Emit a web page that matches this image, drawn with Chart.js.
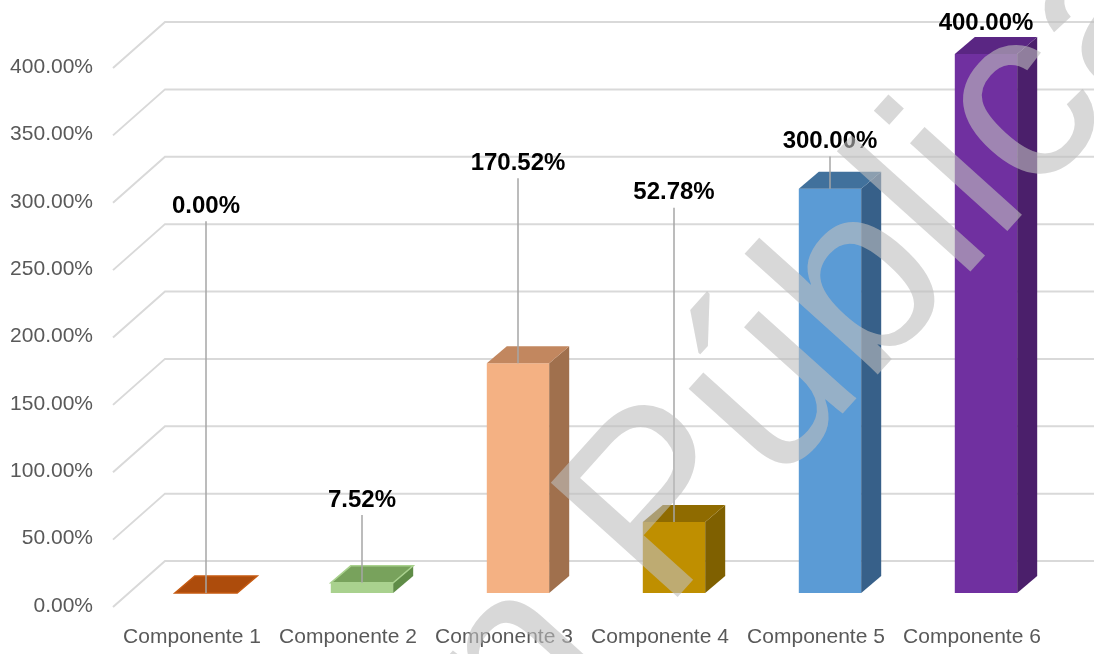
<!DOCTYPE html>
<html>
<head>
<meta charset="utf-8">
<script src="https://cdn.jsdelivr.net/npm/chart.js@4.4.0/dist/chart.umd.min.js"></script>
<style>
  html, body { margin: 0; padding: 0; background: #fff; }
  #chart { display: block; }
</style>
</head>
<body>
<canvas id="chart" width="1094" height="654"></canvas>
<script>
const categories = ['Componente 1', 'Componente 2', 'Componente 3', 'Componente 4', 'Componente 5', 'Componente 6'];
const values = [0, 7.52, 170.52, 52.78, 300, 400];
const valueLabels = ['0.00%', '7.52%', '170.52%', '52.78%', '300.00%', '400.00%'];
// where each (hand-moved) data label sits, in axis units
const labelAnchor = [287, 69, 319, 297, 335, 423];
const yMax = 400;
const yStep = 50;

const frontColors = ['#c55a11', '#a9d18e', '#f4b183', '#bf8f00', '#5b9bd5', '#7030a0'];
const topColors = ['#ad4c0c', '#78a25c', '#c2875f', '#8f6b00', '#41719c', '#5a2683'];
const sideColors = ['#8f3e08', '#5f8c47', '#a0704d', '#7f6000', '#376089', '#4b1f6b'];

const FONT = '"Liberation Sans", Arial, sans-serif';
const DEPTH = { dx: 20, dy: -17 };       // bar depth
const WALL_FRONT = { dx: -15, dy: 14 };  // side wall front edge, from bar plane
const WALL_BACK = { dx: 37, dy: -32 };   // back wall, from bar plane
const watermark = 'Versión Pública';

const grid3d = {
  id: 'grid3d',
  beforeDatasetsDraw(chart) {
    const { ctx, scales: { x, y } } = chart;
    const left = x.left;
    ctx.save();
    ctx.strokeStyle = '#d9d9d9';
    ctx.lineWidth = 2;
    for (let v = 0; v <= yMax; v += yStep) {
      const py = y.getPixelForValue(v);
      ctx.beginPath();
      ctx.moveTo(left + WALL_FRONT.dx, py + WALL_FRONT.dy);
      ctx.lineTo(left + WALL_BACK.dx, py + WALL_BACK.dy);
      ctx.lineTo(chart.width, py + WALL_BACK.dy);
      ctx.stroke();
    }
    ctx.restore();
  }
};

const bars3d = {
  id: 'bars3d',
  afterDatasetsDraw(chart) {
    const { ctx } = chart;
    const meta = chart.getDatasetMeta(0);
    const yScale = chart.scales.y;
    ctx.save();
    meta.data.forEach((bar, i) => {
      const { x, y, base, width } = bar.getProps(['x', 'y', 'base', 'width'], true);
      const l = x - width / 2, r = x + width / 2;
      // side
      if (base - y > 0.5) {
        ctx.fillStyle = sideColors[i];
        ctx.beginPath();
        ctx.moveTo(r, y);
        ctx.lineTo(r + DEPTH.dx, y + DEPTH.dy);
        ctx.lineTo(r + DEPTH.dx, base + DEPTH.dy);
        ctx.lineTo(r, base);
        ctx.closePath();
        ctx.fill();
      }
      // top
      ctx.fillStyle = topColors[i];
      ctx.beginPath();
      ctx.moveTo(l, y);
      ctx.lineTo(l + DEPTH.dx, y + DEPTH.dy);
      ctx.lineTo(r + DEPTH.dx, y + DEPTH.dy);
      ctx.lineTo(r, y);
      ctx.closePath();
      ctx.fill();
      if (base - y < 12) {
        ctx.strokeStyle = frontColors[i];
        ctx.lineWidth = 1.5;
        ctx.stroke();
      }
    });

    // leader lines and data labels
    ctx.font = 'bold 24px ' + FONT;
    ctx.textAlign = 'center';
    ctx.textBaseline = 'middle';
    meta.data.forEach((bar, i) => {
      const { x, y } = bar.getProps(['x', 'y'], true);
      const ly = yScale.getPixelForValue(labelAnchor[i]);
      if (y - (ly + 15) > 25) {
        ctx.strokeStyle = '#a6a6a6';
        ctx.lineWidth = 1.5;
        ctx.beginPath();
        ctx.moveTo(x, ly + 15);
        ctx.lineTo(x, y);
        ctx.stroke();
      }
      ctx.fillStyle = '#000';
      ctx.fillText(valueLabels[i], x, ly);
    });
    ctx.restore();
  },
  afterDraw(chart) {
    const { ctx } = chart;
    ctx.save();
    ctx.translate(664, 612);
    ctx.rotate(-48 * Math.PI / 180);
    ctx.font = '248px ' + FONT;
    ctx.fillStyle = 'rgba(190,190,190,0.6)';
    ctx.textBaseline = 'alphabetic';
    ctx.textAlign = 'left';
    ctx.fillText(watermark, -ctx.measureText('Versión ').width, 0);
    ctx.restore();
  }
};

new Chart(document.getElementById('chart'), {
  type: 'bar',
  data: {
    labels: categories,
    datasets: [{
      data: values,
      backgroundColor: frontColors,
      borderWidth: 0,
      categoryPercentage: 1,
      barPercentage: 0.4
    }]
  },
  options: {
    responsive: false,
    animation: false,
    devicePixelRatio: 1,
    layout: { padding: { left: 0, right: 30, top: 54, bottom: 0 } },
    plugins: { legend: { display: false }, tooltip: { enabled: false } },
    scales: {
      x: {
        grid: { display: false, drawTicks: false },
        border: { display: false },
        afterFit: s => { s.height = 61; },
        ticks: { color: '#595959', font: { family: FONT, size: 21 }, padding: 32, labelOffset: -14, maxRotation: 0 }
      },
      y: {
        min: 0,
        max: yMax,
        grid: { display: false, drawTicks: false },
        border: { display: false },
        afterFit: s => { s.width = 128; },
        ticks: {
          stepSize: yStep,
          color: '#595959',
          font: { family: FONT, size: 21 },
          padding: 35,
          labelOffset: 13,
          callback: v => v.toFixed(2) + '%'
        }
      }
    }
  },
  plugins: [grid3d, bars3d]
});
</script>
</body>
</html>
